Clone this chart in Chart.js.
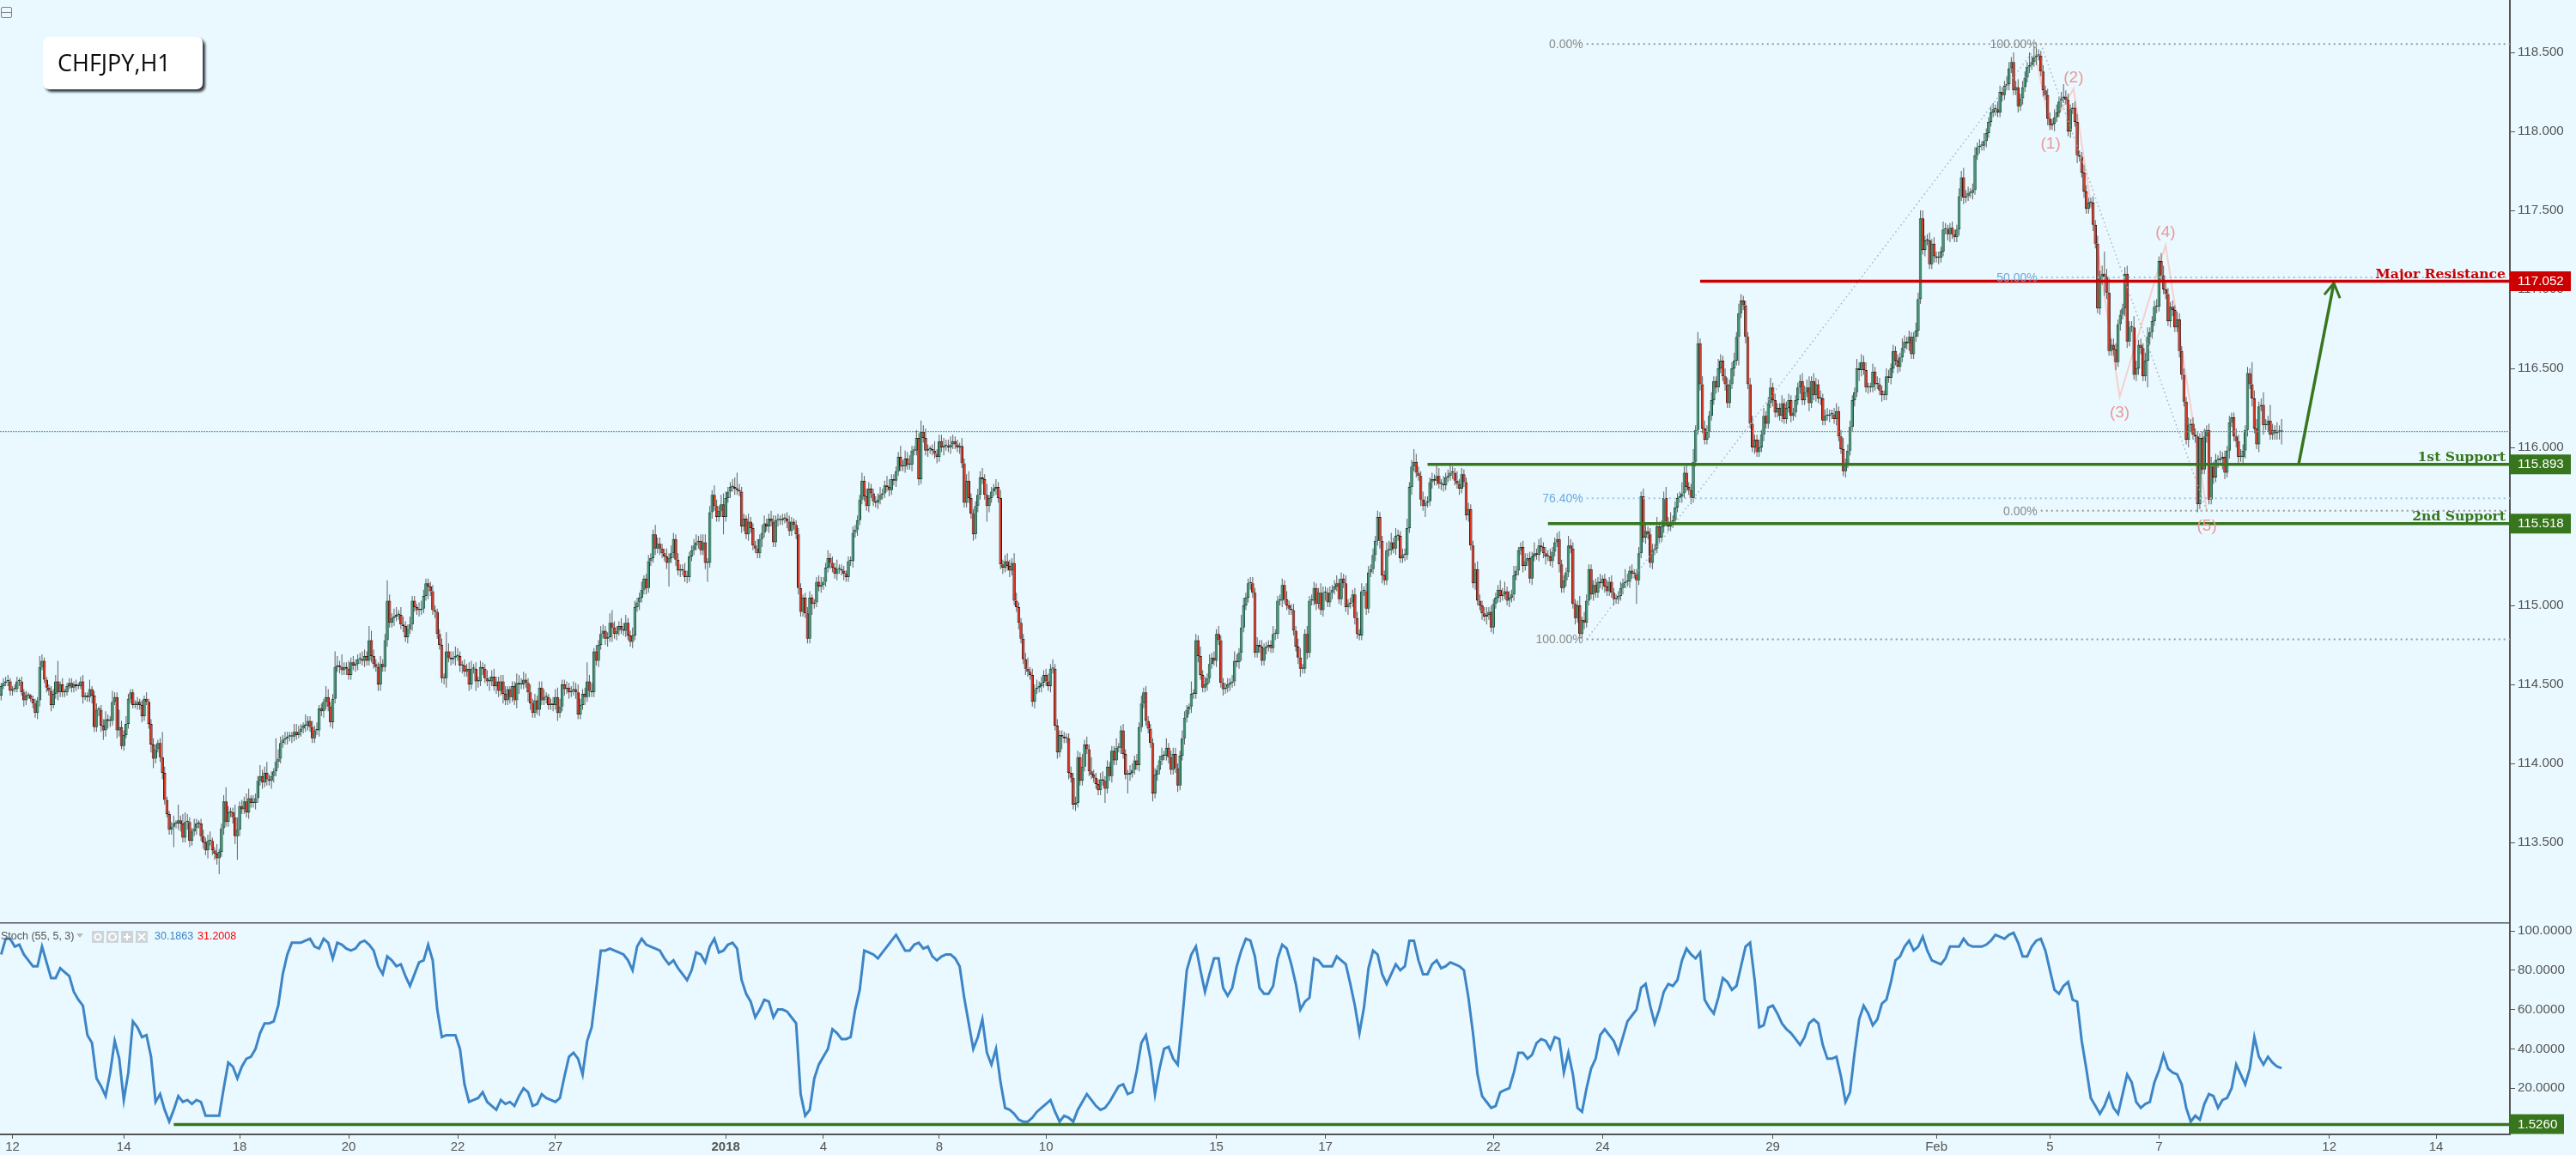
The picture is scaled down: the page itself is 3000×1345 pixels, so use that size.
<!DOCTYPE html>
<html><head><meta charset="utf-8">
<script src="https://cdn.jsdelivr.net/npm/chart.js@4"></script>
<style>html,body{margin:0;padding:0;background:#e9f9ff;width:3000px;height:1345px;overflow:hidden}canvas{position:absolute;left:0;display:block}</style>
</head><body>
<canvas id="price" width="3000" height="1074" style="top:0;width:3000px;height:1074px"></canvas>
<canvas id="stoch" width="3000" height="271" style="top:1074px;width:3000px;height:271px"></canvas>
<script>
const closeA=[
114.49,114.51,114.52,114.52,114.46,114.47,114.47,114.52,114.52,114.45,
114.40,114.43,114.43,114.41,114.38,114.32,114.40,114.61,114.65,114.53,
114.48,114.46,114.37,114.44,114.52,114.45,114.50,114.45,114.45,114.49,
114.51,114.48,114.50,114.49,114.49,114.52,114.42,114.43,114.42,114.47,
114.43,114.23,114.34,114.34,114.24,114.21,114.28,114.27,114.27,114.39,
114.42,114.21,114.23,114.11,114.18,114.25,114.41,114.45,114.37,114.37,
114.39,114.37,114.30,114.41,114.39,114.25,114.12,114.03,114.09,114.13,
114.04,113.94,113.77,113.68,113.58,113.60,113.62,113.62,113.64,113.62,113.53,
113.63,113.63,113.51,113.57,113.59,113.62,113.62,113.54,113.50,113.45,
113.51,113.51,113.45,113.43,113.40,113.44,113.59,113.76,113.63,113.69,
113.69,113.66,113.54,113.58,113.73,113.71,113.76,113.69,113.78,113.75,
113.75,113.78,113.89,113.92,113.88,113.94,113.90,113.89,113.92,113.95,
114.01,114.03,114.13,114.15,114.16,114.17,114.17,114.17,114.20,114.18,114.20,
114.22,114.24,114.24,114.27,114.23,114.16,114.21,114.21,114.35,114.33,
114.39,114.42,114.36,114.26,114.41,114.61,114.62,114.61,114.59];
const closeB=[
114.61,114.60,114.56,114.64,114.62,114.63,114.66,114.66,114.65,114.68,
114.65,114.78,114.68,114.63,114.61,114.50,114.63,114.61,114.78,115.03,
114.89,114.92,114.93,114.94,114.94,114.88,114.87,114.80,114.85,114.88,
115.03,114.99,114.97,114.97,114.98,115.06,115.14,115.12,115.09,114.97,
114.96,114.82,114.75,114.54,114.54,114.71,114.67,114.66,114.67,114.68,
114.68,114.62,114.62,114.58,114.60,114.50,114.60,114.60,114.52,114.52,
114.61,114.60,114.54,114.52,114.52,114.55,114.49,114.52,114.46,114.52,
114.44,114.40,114.47,114.42,114.49,114.40,114.51,114.50,114.50,114.53,
114.51,114.45,114.38,114.32,114.40,114.34,114.48,114.40,114.42,114.42,
114.37,114.38,114.37,114.42,114.32,114.36,114.50,114.47,114.48,114.45,
114.46,114.47,114.45,114.31,114.37,114.44,114.42,114.52,114.46,114.45,
114.71,114.65,114.75,114.82,114.84,114.79,114.80,114.89,114.86,114.82,
114.84,114.87,114.85,114.84,114.89,114.81,114.77,114.81,114.99,115.02,
115.05,115.10,115.17,115.11,115.28,115.30,115.45,115.36,115.39,115.36,
115.33,115.31,115.27,115.30,115.33,115.42,115.29,115.22,115.23,115.22,
115.18,115.18,115.31,115.35,115.38,115.40,115.41,115.35,115.40,115.27,
115.27,115.59,115.70,115.63,115.56,115.60,115.64,115.56,115.68,115.72,
115.75,115.75,115.74,115.73,115.72,115.50,115.55,115.45,115.53,115.49,
115.38,115.36,115.33,115.42,115.46,115.52,115.50,115.55,115.53,115.40,
115.54,115.54,115.54,115.55,115.55,115.53,115.47,115.53,115.51,115.45,
115.11,114.96,115.05,114.95,114.79,115.05,115.01,115.02,115.15,115.12,
115.13,115.15,115.24,115.30,115.27,115.24,115.20,115.23,115.23,115.22,
115.20,115.18,115.28,115.28,115.46,115.48,115.54,115.67,115.79,115.69,
115.63,115.74,115.71,115.66,115.65,115.67,115.70,115.71,115.76,115.75,
115.73,115.80,115.79,115.85,115.94,115.88,115.88,115.93,115.89,115.89,
115.98,115.98,116.06,115.80,116.10,116.06,115.98,115.99,115.99,115.98,
115.96,115.94,116.04,116.00,116.01];
const closeC=[
116.01,116.00,116.02,116.04,116.02,116.00,116.01,115.90,115.65,115.79,
115.68,115.58,115.45,115.63,115.70,115.81,115.80,115.70,115.63,115.68,
115.72,115.74,115.75,115.68,115.26,115.24,115.28,115.25,115.22,115.27,
115.03,114.99,114.89,114.79,114.66,114.60,114.58,114.56,114.39,114.47,
114.48,114.49,114.51,114.56,114.52,114.49,114.60,114.60,114.24,114.07,
114.18,114.17,114.16,114.16,113.94,113.91,113.74,113.75,114.04,113.89,
113.98,114.12,114.09,113.95,113.93,113.91,113.87,113.83,113.90,113.89,
113.84,113.98,113.92,114.08,114.02,114.10,114.10,114.21,114.06,113.93,
113.93,113.94,113.96,114.02,113.99,114.23,114.38,114.45,114.27,114.22,
114.13,113.81,113.93,113.96,114.02,114.05,114.05,114.10,114.04,113.96,
114.06,113.97,113.86,114.05,114.16,114.29,114.34,114.36,114.44,114.44,
114.78,114.68,114.56,114.48,114.50,114.54,114.63,114.67,114.65,114.82,
114.78,114.51,114.47,114.48,114.50,114.51,114.52,114.65,114.64,114.70,
114.86,115.00,115.05,115.14,115.14,115.08,114.70,114.75,114.74,114.65,
114.73,114.74,114.75,114.73,114.82,114.82,115.03,115.03,115.13,115.04,
115.00,114.98,114.97,114.84,114.74,114.67,114.60,114.60,114.82,114.70,
115.03,115.03,115.11,115.01,115.08,114.97,115.08,115.08,115.02,115.08,
115.10,115.12,115.14,115.04,115.17,115.14,114.99,115.01,115.02,115.07,
114.92,114.82,114.81,115.09,115.09,114.98,115.21,115.23,115.32,115.41,
115.56,115.41,115.19,115.16,115.35,115.35,115.40,115.36,115.44,115.44,
115.30,115.32,115.32,115.49,115.75,115.88,115.91,115.84,115.82,115.67,
115.63,115.65,115.66,115.78,115.80,115.79,115.82,115.77,115.77,115.76,
115.81,115.82,115.84,115.84,115.79,115.77,115.74,115.83,115.78,115.57,
115.61,115.38,115.14,115.23,115.03,115.00,114.95,114.93,114.94,114.96,
114.86,115.01,115.05,115.10,115.06,115.07,115.09,115.03,115.05,115.07,
115.19,115.22,115.35,115.37,115.25,115.28,115.30,115.17,115.31,115.33,
115.32,115.38,115.37,115.33,115.31];
const closeD=[
115.31,115.28,115.34,115.40,115.42,115.26,115.11,115.16,115.21,115.38,
115.36,115.01,114.92,115.00,114.82,114.91,114.89,115.03,115.23,115.07,
115.13,115.08,115.15,115.14,115.17,115.12,115.09,115.15,115.08,115.04,
115.04,115.06,115.11,115.14,115.15,115.15,115.22,115.20,115.20,115.16,
115.33,115.69,115.43,115.47,115.45,115.27,115.35,115.36,115.50,115.43,
115.50,115.68,115.53,115.50,115.53,115.54,115.62,115.68,115.69,115.71,
115.84,115.75,115.73,115.68,115.91,116.11,116.66];
const closeE=[
116.40,116.12,116.05,116.10,116.20,116.30,116.42,116.38,116.50,116.55,
116.45,116.40,116.28,116.40,116.50,116.55,116.70,116.85,116.93,116.90,
116.70,116.40,116.15,116.00,116.05,115.97,116.00,116.08,116.20,116.15,
116.28,116.38,116.30,116.22,116.25,116.20,116.28,116.18,116.25,116.30,
116.20,116.22,116.30,116.38,116.42,116.30];
const closeF=[
116.35,116.38,116.28,116.42,116.33,116.40,116.31,116.31,116.17,116.20,
116.20,116.21,116.21,116.18,116.23,116.07,115.99,115.85,115.90,115.98,
116.13,116.30,116.35,116.50,116.49,116.54,116.49,116.38,116.38,116.38,
116.48,116.40,116.40,116.36,116.33,116.33,116.45,116.44,116.50,116.61,
116.55,116.51,116.57,116.63,116.67,116.66,116.70,116.59,116.70,116.74,
116.94,117.45,117.25,117.31,117.31,117.16,117.29,117.21,117.20,117.20,
117.24,117.38,117.38,117.35,117.39,117.35,117.33,117.38,117.59,117.71,
117.58,117.59,117.61,117.61,117.63,117.85,117.90,117.91,117.91,117.94,
117.99,118.06,118.12,118.14,118.14,118.12,118.25,118.23,118.29,118.30,
118.40,118.44,118.26,118.28,118.16,118.21,118.28,118.34,118.41,118.42,
118.44,118.47,118.48,118.48,118.38,118.26,118.23,118.08,118.04,118.05,
118.09,118.12,118.19,118.21,118.22,118.20,118.00,118.14,118.15,118.06,
117.85,117.84,117.74,117.62,117.51,117.55,117.55,117.41,117.29,116.88,
117.08,117.10,117.08,116.98,116.61,116.65,116.62,116.54,116.78,116.84,
116.88,117.10,116.67,116.76,116.76,116.46,116.50,116.65,116.63,116.45,
116.55,116.70,116.73,116.80,116.89,116.89,117.18,117.09,117.00,116.97,
116.80,116.89,116.87,116.76,116.81,116.61,116.46,116.29,116.05,116.14,
116.15,116.08,116.07,115.64,116.06,115.86,116.07,116.11,115.67,115.88,
115.81,115.92,115.92,115.93,115.94,115.84,115.98,116.16,116.19,116.07,
116.04,115.94,115.94,115.98,116.11,116.47,116.40,116.31,116.12,116.02,
116.26,116.27,116.14,116.14,116.17,116.08,116.11,116.09,116.10,116.10,116.10];
const wickUp=[
2,3,3,4,2,2,3,3,2,3,2,3,2,1,2,3,2,7,4,2,2,2,3,3,4,
13,2,4,2,2,3,3,2,3,2,3,4,2,2,6,2,3,4,2,3,4,5,3,3,7,
3,3,11,4,3,5,3,2,2,3,3,2,3,2,4,2,3,4,3,2,3,16,4,2,2,
3,5,2,10,3,6,6,5,3,2,6,3,2,3,4,3,4,6,2,2,6,2,3,4,9,
4,3,3,8,8,3,4,3,5,6,2,5,3,3,7,4,4,7,3,3,2,15,6,4,3,
4,3,3,3,5,5,4,3,2,7,3,3,4,3,5,2,3,2,7,5,3,3,10,6,3,
8,3,3,5,3,4,3,3,4,5,4,3,9,6,4,3,3,5,3,4,13,4,3,5,5,
3,5,5,3,3,5,3,3,2,5,5,4,3,3,3,4,3,2,3,4,3,12,5,4,4,
6,5,3,3,4,3,4,5,3,4,3,4,3,3,5,3,4,5,3,3,4,4,5,2,2,
3,3,6,5,4,5,4,3,5,3,4,3,4,4,5,3,2,3,4,5,6,5,3,3,4,
3,3,5,4,5,4,3,4,12,4,5,2,4,3,5,4,3,3,6,8,4,3,3,5,4,
5,3,3,5,4,3,3,5,2,3,4,3,3,6,4,4,3,3,5,3,5,4,3,4,3,
3,5,4,3,3,4,5,3,4,5,5,3,4,3,6,4,3,6,7,4,3,3,5,6,10,
4,3,3,2,5,3,3,3,6,3,5,5,3,3,5,4,3,4,3,3,3,4,4,3,2,
3,4,3,2,3,4,4,2,2,3,4,5,3,3,5,3,4,3,6,3,3,3,2,3,3,
4,3,3,3,5,3,5,4,3,3,3,4,5,3,3,6,5,3,3,3,3,7,4,5,4,
6,3,3,5,3,7,4,6,3,2,3,6,3,4,4,5,4,4,5,4,3,3,2,5,3,
4,6,3,3,3,4,4,6,3,7,2,3,3,5,3,5,3,4,5,4,3,6,5,3,3,
3,4,7,3,4,3,5,3,4,3,4,5,3,6,3,4,3,3,3,3,3,4,3,4,4,
3,8,3,5,3,9,3,3,3,4,5,3,4,3,3,3,6,3,3,4,3,3,5,4,3,
4,3,5,3,4,3,3,3,4,3,3,5,3,6,3,4,4,4,3,3,5,4,3,2,8,
3,4,3,6,3,5,3,6,3,4,3,5,3,3,3,4,3,4,6,4,3,8,5,3,3,
4,4,3,5,3,4,3,3,3,3,5,3,3,4,4,3,5,3,3,4,3,5,6,3,3,
5,3,4,4,3,3,6,4,4,3,4,3,4,5,3,4,3,5,3,3,3,4,4,3,5,
3,5,4,3,4,3,4,3,3,3,5,6,6,3,5,4,3,4,4,6,3,4,8,5,4,
3,5,4,3,3,4,3,7,5,3,5,3,4,5,4,3,6,3,4,3,3,4,3,3,4,
5,4,3,4,5,3,4,3,3,3,6,4,6,3,4,3,6,3,2,3,4,5,3,4,3,
7,3,4,5,3,4,4,5,3,3,4,5,3,3,3,6,4,4,3,3,6,2,5,4,3,
3,3,4,3,5,2,3,4,3,4,3,3,3,4,3,8,5,3,4,3,3,4,3,5,4,
3,4,4,3,6,3,4,4,7,3,6,3,4,3,3,7,4,5,3,4,8,3,7,3,5,
5,4,3,5,3,3,6,4,3,5,4,3,4,5,3,6,4,3,3,3,4,5,3,3,5,
3,5,3,4,6,3,4,3,3,5,3,4,4,3,3,3,3,4,5,4,5,7,3,5,4,
3,5,3,4,5,3,3,4,5,3,4,7,3,4,4,3,3,6,4,5,4,5,3,3,5,
3,5,4,3,3,5,4,3,4,3,4,3,6,4,3,4,3,3,5,4,5,5,3,4,5,
3,4,3,4,3,5,4,3,3,4,3,3,5,4,6,4,4,3,4,5,3,4,3,5,3,
3,4,4,3,5,4,3,3,5,4,3,6,4,5,3,4,4,3,8,4,7,5,4,3,4,
3,4,4,3,5,5,3,4,8,4,4,3,3,4,5,3,3,5,4,3,3,4,3,5,4,
5,14,5,9,4,4,4,3,3,3,4,5,4,4,7,5,3,4,3,5,6,3,3,4,5,
3,5,6,5,4,3,4,3,5,4,3,4,3,5,3,4,4,3,3,4,5,3,4,6,3,
4,3,5,3,4,3,4,3,3,5,4,5,4,3,4,3,14,5,6,3,4,8,4,3,10,
4,3,6,4,8];
const wickDown=[
3,2,2,3,3,3,2,2,3,2,4,3,2,2,3,3,4,4,2,2,3,3,4,2,3,
5,3,3,3,2,2,3,3,3,2,2,4,2,3,3,5,3,3,4,4,6,4,5,4,3,
2,5,4,2,3,2,3,3,2,2,3,3,4,3,2,3,5,6,3,2,3,4,3,2,3,
3,13,3,4,5,3,3,5,4,3,3,4,3,3,4,3,5,3,3,4,4,10,3,4,3,
3,3,4,5,15,4,3,3,3,4,3,3,4,3,3,4,3,4,3,5,4,3,4,3,3,
3,4,3,4,3,3,2,3,3,4,3,3,3,3,3,4,3,4,5,3,3,4,3,3,4,
3,3,4,3,3,3,4,4,3,3,4,3,3,4,3,3,4,4,3,3,4,3,3,5,3,
3,3,4,3,4,3,4,3,3,4,3,3,3,8,3,3,4,3,3,3,4,6,3,4,3,
5,3,4,5,3,3,4,3,3,6,4,3,4,3,3,6,3,3,5,4,3,6,3,3,4,
3,3,5,6,3,3,3,6,4,3,3,3,4,3,3,4,3,3,4,3,5,3,3,4,3,
4,3,3,4,3,3,3,5,3,4,3,3,3,4,3,3,4,5,3,9,3,4,3,3,3,
4,3,3,4,3,3,5,3,3,4,3,3,3,4,3,4,3,3,4,15,3,3,4,3,4,
3,3,4,3,3,3,3,4,3,3,4,12,3,4,3,3,3,4,11,3,3,4,3,4,3,
3,4,3,3,4,3,3,3,3,3,5,3,3,4,3,3,3,4,3,3,3,4,3,3,3,
3,4,3,3,3,3,3,7,3,3,3,4,3,3,3,4,3,3,4,3,3,4,3,3,3,
4,3,4,3,3,3,3,4,3,3,3,4,3,3,3,3,4,3,3,4,3,3,3,4,3,
3,4,3,3,4,3,3,3,4,3,3,3,4,3,3,5,3,3,4,3,3,3,4,3,3,
3,3,3,4,3,4,3,3,3,10,4,3,3,4,3,3,4,3,3,4,3,3,3,4,3,
3,4,3,3,3,4,3,3,4,3,3,3,4,3,3,4,3,8,3,3,4,3,3,4,3,
3,3,3,3,3,3,3,3,3,3,3,9,3,3,4,3,3,3,4,3,3,12,4,3,3,
3,4,3,3,3,3,3,5,3,4,3,3,3,3,4,3,3,3,4,3,3,4,3,3,4,
3,3,4,3,3,3,4,3,3,3,4,3,3,4,3,3,4,3,3,3,4,5,3,3,3,
4,3,3,3,4,3,3,4,3,3,3,4,3,3,4,3,3,4,3,3,3,4,5,3,3,
4,3,3,3,4,3,3,4,5,3,3,4,3,3,3,4,3,3,5,3,3,4,3,3,3,
3,4,3,3,3,4,3,5,5,3,3,4,3,3,4,3,3,3,4,3,3,5,3,3,3,
4,3,7,3,3,4,3,3,3,4,4,3,3,3,4,3,3,4,3,3,3,4,3,3,4,
3,3,4,3,5,3,3,4,3,3,4,3,3,3,4,3,4,3,3,3,4,3,3,3,4,
3,3,4,3,3,5,3,3,4,3,3,5,3,3,4,3,3,3,4,3,3,3,4,3,3,
3,4,3,3,3,4,4,3,3,3,4,3,3,3,4,3,3,4,3,3,15,3,3,3,4,
3,3,4,3,3,3,3,4,3,3,3,4,3,3,3,4,3,3,3,4,3,3,3,4,3,
3,3,4,3,3,4,3,3,3,4,3,3,3,5,3,18,3,3,4,3,3,3,4,3,3,
3,4,3,3,3,4,3,3,3,4,3,3,3,4,3,3,3,4,3,3,3,5,3,3,4,
3,4,3,3,3,4,3,3,4,3,3,3,4,3,3,3,4,3,7,4,3,3,4,3,3,
4,3,3,4,3,3,3,4,3,3,4,3,3,3,4,5,3,3,3,4,3,3,4,3,3,
3,4,3,4,3,3,3,4,5,3,3,3,4,3,4,3,3,3,4,3,3,4,3,3,4,
3,3,3,4,3,3,4,3,3,4,3,3,3,4,3,4,3,3,4,3,3,5,3,3,4,
3,4,3,3,5,3,3,4,3,3,3,4,3,3,5,3,3,4,3,3,3,4,3,3,4,
5,12,4,3,3,4,5,3,4,3,5,4,3,3,3,4,4,4,3,3,17,5,4,3,4,
3,4,3,3,3,4,4,3,3,4,3,3,3,5,4,3,4,5,3,3,3,4,3,3,4,
3,5,3,7,4,3,5,3,3,4,4,3,4,5,4,3,5,3,3,5,3,6,3,4,3,
3,4,4,5,8];
const stochA=[88,96,96,92,93,88,85,82,82,92,84,76,76,81,79,77,69,65,62,47,43,25,21,16,28,44,35,14,28,54,51,46,47,36,13,17,9,3,9,16,13,14,12,14,13,6,6,6,6,20,33,31,25,31,35,36,40,48,53,53,54,62,78,88,94,94,94,95,96,92,91,96,94,86,94,93,91,90,91,94,95,93,90,82,78,87,85,82,83,77,72,78,84,85,93,85,60,46,47,47,47,40,22,13,14,15,18,13,11,9,14,12,13,11];
const stochB=[16,20,18,11,12,17,15,14,13,15,26,36,38,35,27,44,51,70,90,90,91,90,89,88,85,80,92,96,93,92,91,90,86,83,85,81,78,75,80,89,88,84,92,96,89,90,93,94,91,75,68,64,56,60,65,64,56,60,60,59,56,53,17,6,9,25,32,36,40,50,48,45,45,46,60,70,90,89,88,86,89,92,95,98,94,90,90,93,94,91,92,87,85,87,88,88,86,82,66,53,40,46,55,38,32,40,23,10,9,7,4,3,3,5,8,10,12,14,8,3,6,5,3,9,13,17,14,11,9,10,13,17,21,22,17,18,29,43,47,35,17,30,40,41,35,32,55,80,88,92,80,69,78,86,86,71,67,71,82,90,96,95,87,71,68,68,72,86,93,91,83,73,60,64,66,86,85,82,82,82,87,85,83,73,62,48,61,81,90];
const stochC=[88,78,73,78,83,80,82,95,95,85,78,78,83,85,81,82,84,83,82,80,66,48,27,16,13,10,11,18,19,20,28,38,38,35,37,43,45,44,40,46,45,28,38,27,10,8,20,30,35,47,50,47,44,38,46,54,57,60,71,73,62,53,60,69,73,72,75,85,91,88,86,89,65,61,58,66,76,74,70,72,82,92,94,75,51,52,61,62,58,53,50,48,45,42,46,53,55,53,42,35,35,36,26,13,18,38,55,62,58,52,55,63,65,74,85,87,92,95,90,92,97,90,85,84,83,86,92,92,92,96,93,92,92,92,93,95,98,97,96,98,99,94,87,87,92,95,96,90,80,70,68,72,74,65,64,44,30,15,11,7,11,17,10,7,17,27,23,13,10,12,13,23,29,37,30,28,27,22,10,3,6,4,12,17,16,10,14,15,20];
const stochD=[32,27,22,30,46,36,32,36,33,31,30.1863];
const stochStep=2;
const priceTickValues=[118.5,118,117.5,117,116.5,116,115.5,115,114.5,114,113.5];
const stochTickValues=[100,80,60,40,20];
const xTickLabels=['12','14','18','20','22','27','2018','4','8','10','15','17','22','24','29','Feb','5','7','12','14'];
const xTickBars=[5,54,105,153,201,244,319,362,413,460,535,583,657,705,780,852,902,950,1025,1072];
const levelPrices=[117.052,115.893,115.518];
const levelStartBars=[748,628,681];
const levelNames=['Major Resistance','1st Support','2nd Support'];
const levelColors=['#cc0000','#38761d','#38761d'];
const stochLevel=1.526, stochLevelStartBar=76;
const lastPrice=116.10;
const fibPrices=[118.554,115.678,114.786,117.077,115.60];
const fibTexts=['0.00%','76.40%','100.00%','50.00%','0.00%'];
const fibBars=[698,698,698,898,898];
const fibBlue=[false,true,false,true,false];
const fibTrendBars=[[698,897],[898,971]];
const fibTrendPrices=[[114.786,118.554],[118.554,115.60]];
const fib100Text='100.00%', fib100Bar=898, fib100Price=118.554;
const elliottBars=[895.5,902.3,912.4,932.7,952.9,971.1];
const elliottPrices=[118.49,118.02,118.27,116.32,117.28,115.60];
const waveLabels=['(1)','(2)','(3)','(4)','(5)'];
const waveLabelPrices=[117.92,118.34,116.22,117.36,115.50];
const arrowBars=[1011.5,1027,1022.8,1027,1029.7];
const arrowPrices=[115.893,117.04,116.967,117.04,116.945];

const closes=[...closeA,...closeB,...closeC,...closeD,...closeE,...closeF];
const opens=closes.map((c,i)=>i?closes[i-1]:114.43);
const barIdx=closes.map((_,i)=>i);
const bodies=closes.map((c,i)=>[opens[i],c]);
const wicks=closes.map((c,i)=>[Math.min(opens[i],c)-(wickDown[i]||0)/100,Math.max(opens[i],c)+(wickUp[i]||0)/100]);
const stochValues=[...stochA,...stochB,...stochC,...stochD];
const XMIN=-0.5,XMAX=1104.5;
const AXIS='#555', FONT='"Liberation Sans",Arial,sans-serif', BLUE='#6fa8dc', GRAY='#8a8a8a';
Chart.defaults.font.family=FONT;
Chart.defaults.animation=false;

function line(xs,ys,color,width,dash,order){
  return {type:'line',data:xs.map((x,i)=>({x,y:ys[i]})),borderColor:color,borderWidth:width,borderDash:dash||[],
    pointRadius:0,pointHoverRadius:0,fill:false,tension:0,order:order===undefined?0:order,parsing:true};
}
function tag(ctx,x,y,w,h,color,text){
  ctx.fillStyle=color;ctx.fillRect(x,y-h/2,w,h);
  ctx.fillStyle='#fff';ctx.font='15.2px '+FONT;ctx.textAlign='left';ctx.textBaseline='middle';
  ctx.fillText(text,x+9,y+0.5);
}
function fitY(s){s.width=77;s.paddingTop=0;s.paddingBottom=0}

const pricePlugin={id:'priceDeco',afterDraw(c){
  const ctx=c.ctx,x=c.scales.x,y=c.scales.y;ctx.save();
  ctx.save();ctx.shadowColor='rgba(20,25,30,.85)';ctx.shadowBlur=3;ctx.shadowOffsetX=3;ctx.shadowOffsetY=3;
  ctx.fillStyle='#fff';ctx.beginPath();ctx.roundRect(50,43,186,61,7);ctx.fill();ctx.restore();
  ctx.fillStyle='#0a0a0a';ctx.font='27px "Open Sans",sans-serif';ctx.textAlign='left';ctx.textBaseline='middle';
  ctx.fillText('CHFJPY,H1',67,75);
  ctx.strokeStyle='#808080';ctx.lineWidth=1;ctx.beginPath();ctx.roundRect(1.5,8.5,12,12,1.5);ctx.moveTo(2,14.5);ctx.lineTo(13,14.5);ctx.stroke();
  ctx.textAlign='right';ctx.textBaseline='middle';ctx.font='14px '+FONT;
  fibTexts.forEach((t,i)=>{ctx.fillStyle=fibBlue[i]?BLUE:GRAY;ctx.fillText(t,x.getPixelForValue(fibBars[i])-4,y.getPixelForValue(fibPrices[i])+1)});
  ctx.fillStyle=GRAY;ctx.fillText(fib100Text,x.getPixelForValue(fib100Bar)-4,y.getPixelForValue(fib100Price)+1);
  ctx.textAlign='center';ctx.font='19px '+FONT;ctx.fillStyle='#ea9999';
  waveLabels.forEach((t,i)=>ctx.fillText(t,x.getPixelForValue(elliottBars[i+1]),y.getPixelForValue(waveLabelPrices[i])));
  levelPrices.forEach((p,i)=>{
    const py=y.getPixelForValue(p);
    ctx.font='bold 15.6px "DejaVu Serif",serif';ctx.textAlign='right';ctx.textBaseline='alphabetic';ctx.fillStyle=levelColors[i];
    ctx.fillText(levelNames[i],2918,py-4);
    tag(ctx,2923,py,71,23,levelColors[i],p.toFixed(3));
  });
  ctx.restore();
}};
new Chart(document.getElementById('price'),{
  data:{labels:barIdx,datasets:[
    {type:'bar',data:wicks,backgroundColor:'#666',borderWidth:0,inflateAmount:0,grouped:false,barPercentage:0.4,categoryPercentage:1,order:4},
    {type:'bar',data:bodies,backgroundColor:closes.map((c,i)=>c>=opens[i]?'#3f9070':'#d9301c'),
      borderColor:closes.map((c,i)=>c>=opens[i]?'#17503c':'#4a1510'),borderWidth:1,borderSkipped:false,inflateAmount:0,minBarLength:1.5,grouped:false,barPercentage:1.36,categoryPercentage:1,order:3},
    line([XMIN,XMAX],[lastPrice,lastPrice],'#4f9f78',1,[2,1],2),
    line(elliottBars,elliottPrices,'#f6cfcc',2,[],5),
    ...fibTrendBars.map((b,i)=>line(b,fibTrendPrices[i],'#a9b4b8',1.5,[1.5,3.5],2)),
    ...fibPrices.map((p,i)=>line([fibBars[i],XMAX],[p,p],fibBlue[i]?'#9fc5e8':'#9a9a9a',2,[2,4],2)),
    ...levelPrices.map((p,i)=>line([levelStartBars[i],XMAX],[p,p],levelColors[i],3.5,[],0)),
    line(arrowBars.slice(0,2),arrowPrices.slice(0,2),'#38761d',3.5,[],0),
    line(arrowBars.slice(2),arrowPrices.slice(2),'#38761d',3,[],0)
  ]},
  options:{responsive:false,devicePixelRatio:1,layout:{padding:0},
    plugins:{legend:{display:false},tooltip:{enabled:false}},events:[],
    scales:{
      x:{type:'linear',display:false,min:XMIN,max:XMAX,offset:false},
      y:{position:'right',min:112.995,max:118.832,afterFit:fitY,
        afterBuildTicks(s){s.ticks=priceTickValues.map(value=>({value}))},
        grid:{drawOnChartArea:false,tickLength:6,color:AXIS},border:{color:AXIS,width:2},
        ticks:{color:AXIS,font:{size:15.2},padding:3,callback:v=>Number(v).toFixed(3)}}
    }},
  plugins:[pricePlugin]
});

const stochPlugin={id:'stochDeco',afterDraw(c){
  const ctx=c.ctx,y=c.scales.y;ctx.save();
  ctx.strokeStyle=AXIS;ctx.lineWidth=2;ctx.beginPath();ctx.moveTo(0,0.5);ctx.lineTo(2924,0.5);ctx.stroke();
  ctx.textBaseline='middle';ctx.textAlign='left';ctx.font='12.5px '+FONT;ctx.fillStyle='#555';
  ctx.fillText('Stoch (55, 5, 3)',1,17);
  ctx.fillStyle='#bbb';ctx.beginPath();ctx.moveTo(89,13);ctx.lineTo(97,13);ctx.lineTo(93,18);ctx.fill();
  [107,124,141,158].forEach((bx,i)=>{ctx.fillStyle='#cdd5d9';ctx.fillRect(bx,10,14,14);
    ctx.strokeStyle='#fff';ctx.lineWidth=2;ctx.beginPath();
    if(i<2){ctx.arc(bx+7,17,i?4:3.5,0,6.3)}
    if(i==2){ctx.moveTo(bx+3,17);ctx.lineTo(bx+11,17);ctx.moveTo(bx+7,13);ctx.lineTo(bx+7,21)}
    if(i==3){ctx.moveTo(bx+3,13);ctx.lineTo(bx+11,21);ctx.moveTo(bx+11,13);ctx.lineTo(bx+3,21)}
    ctx.stroke()});
  ctx.font='12.5px '+FONT;ctx.fillStyle='#3d85c6';ctx.fillText('30.1863',180,17);
  ctx.fillStyle='#ff0000';ctx.fillText('31.2008',230,17);
  tag(ctx,2923,y.getPixelForValue(stochLevel)-0.5,63,23,'#38761d',stochLevel.toFixed(4));
  ctx.restore();
}};
new Chart(document.getElementById('stoch'),{
  data:{datasets:[
    line(stochValues.map((_,i)=>i*stochStep),stochValues,'#3d85c6',3,[],1),
    line([stochLevelStartBar,XMAX],[stochLevel,stochLevel],'#38761d',3.5,[],0)
  ]},
  options:{responsive:false,devicePixelRatio:1,layout:{padding:0},
    plugins:{legend:{display:false},tooltip:{enabled:false}},events:[],
    scales:{
      x:{type:'linear',min:XMIN,max:XMAX,offset:false,
        afterFit(s){s.height=24},
        afterBuildTicks(s){s.ticks=xTickBars.map(value=>({value}))},
        grid:{drawOnChartArea:false,tickLength:5,color:AXIS},border:{color:AXIS,width:2},
        ticks:{autoSkip:false,maxRotation:0,color:AXIS,padding:1,
          font:ctx=>({size:15,weight:ctx.tick&&xTickLabels[xTickBars.indexOf(ctx.tick.value)]==='2018'?'bold':'normal'}),
          callback:v=>xTickLabels[xTickBars.indexOf(v)]}},
      y:{position:'right',min:-3.49,max:104.37,afterFit:fitY,
        afterBuildTicks(s){s.ticks=stochTickValues.map(value=>({value}))},
        grid:{drawOnChartArea:false,tickLength:6,color:AXIS},border:{color:AXIS,width:2},
        ticks:{color:AXIS,font:{size:15.2},padding:3,callback:v=>Number(v).toFixed(4)}}
    }},
  plugins:[stochPlugin]
});
</script>
</body></html>
